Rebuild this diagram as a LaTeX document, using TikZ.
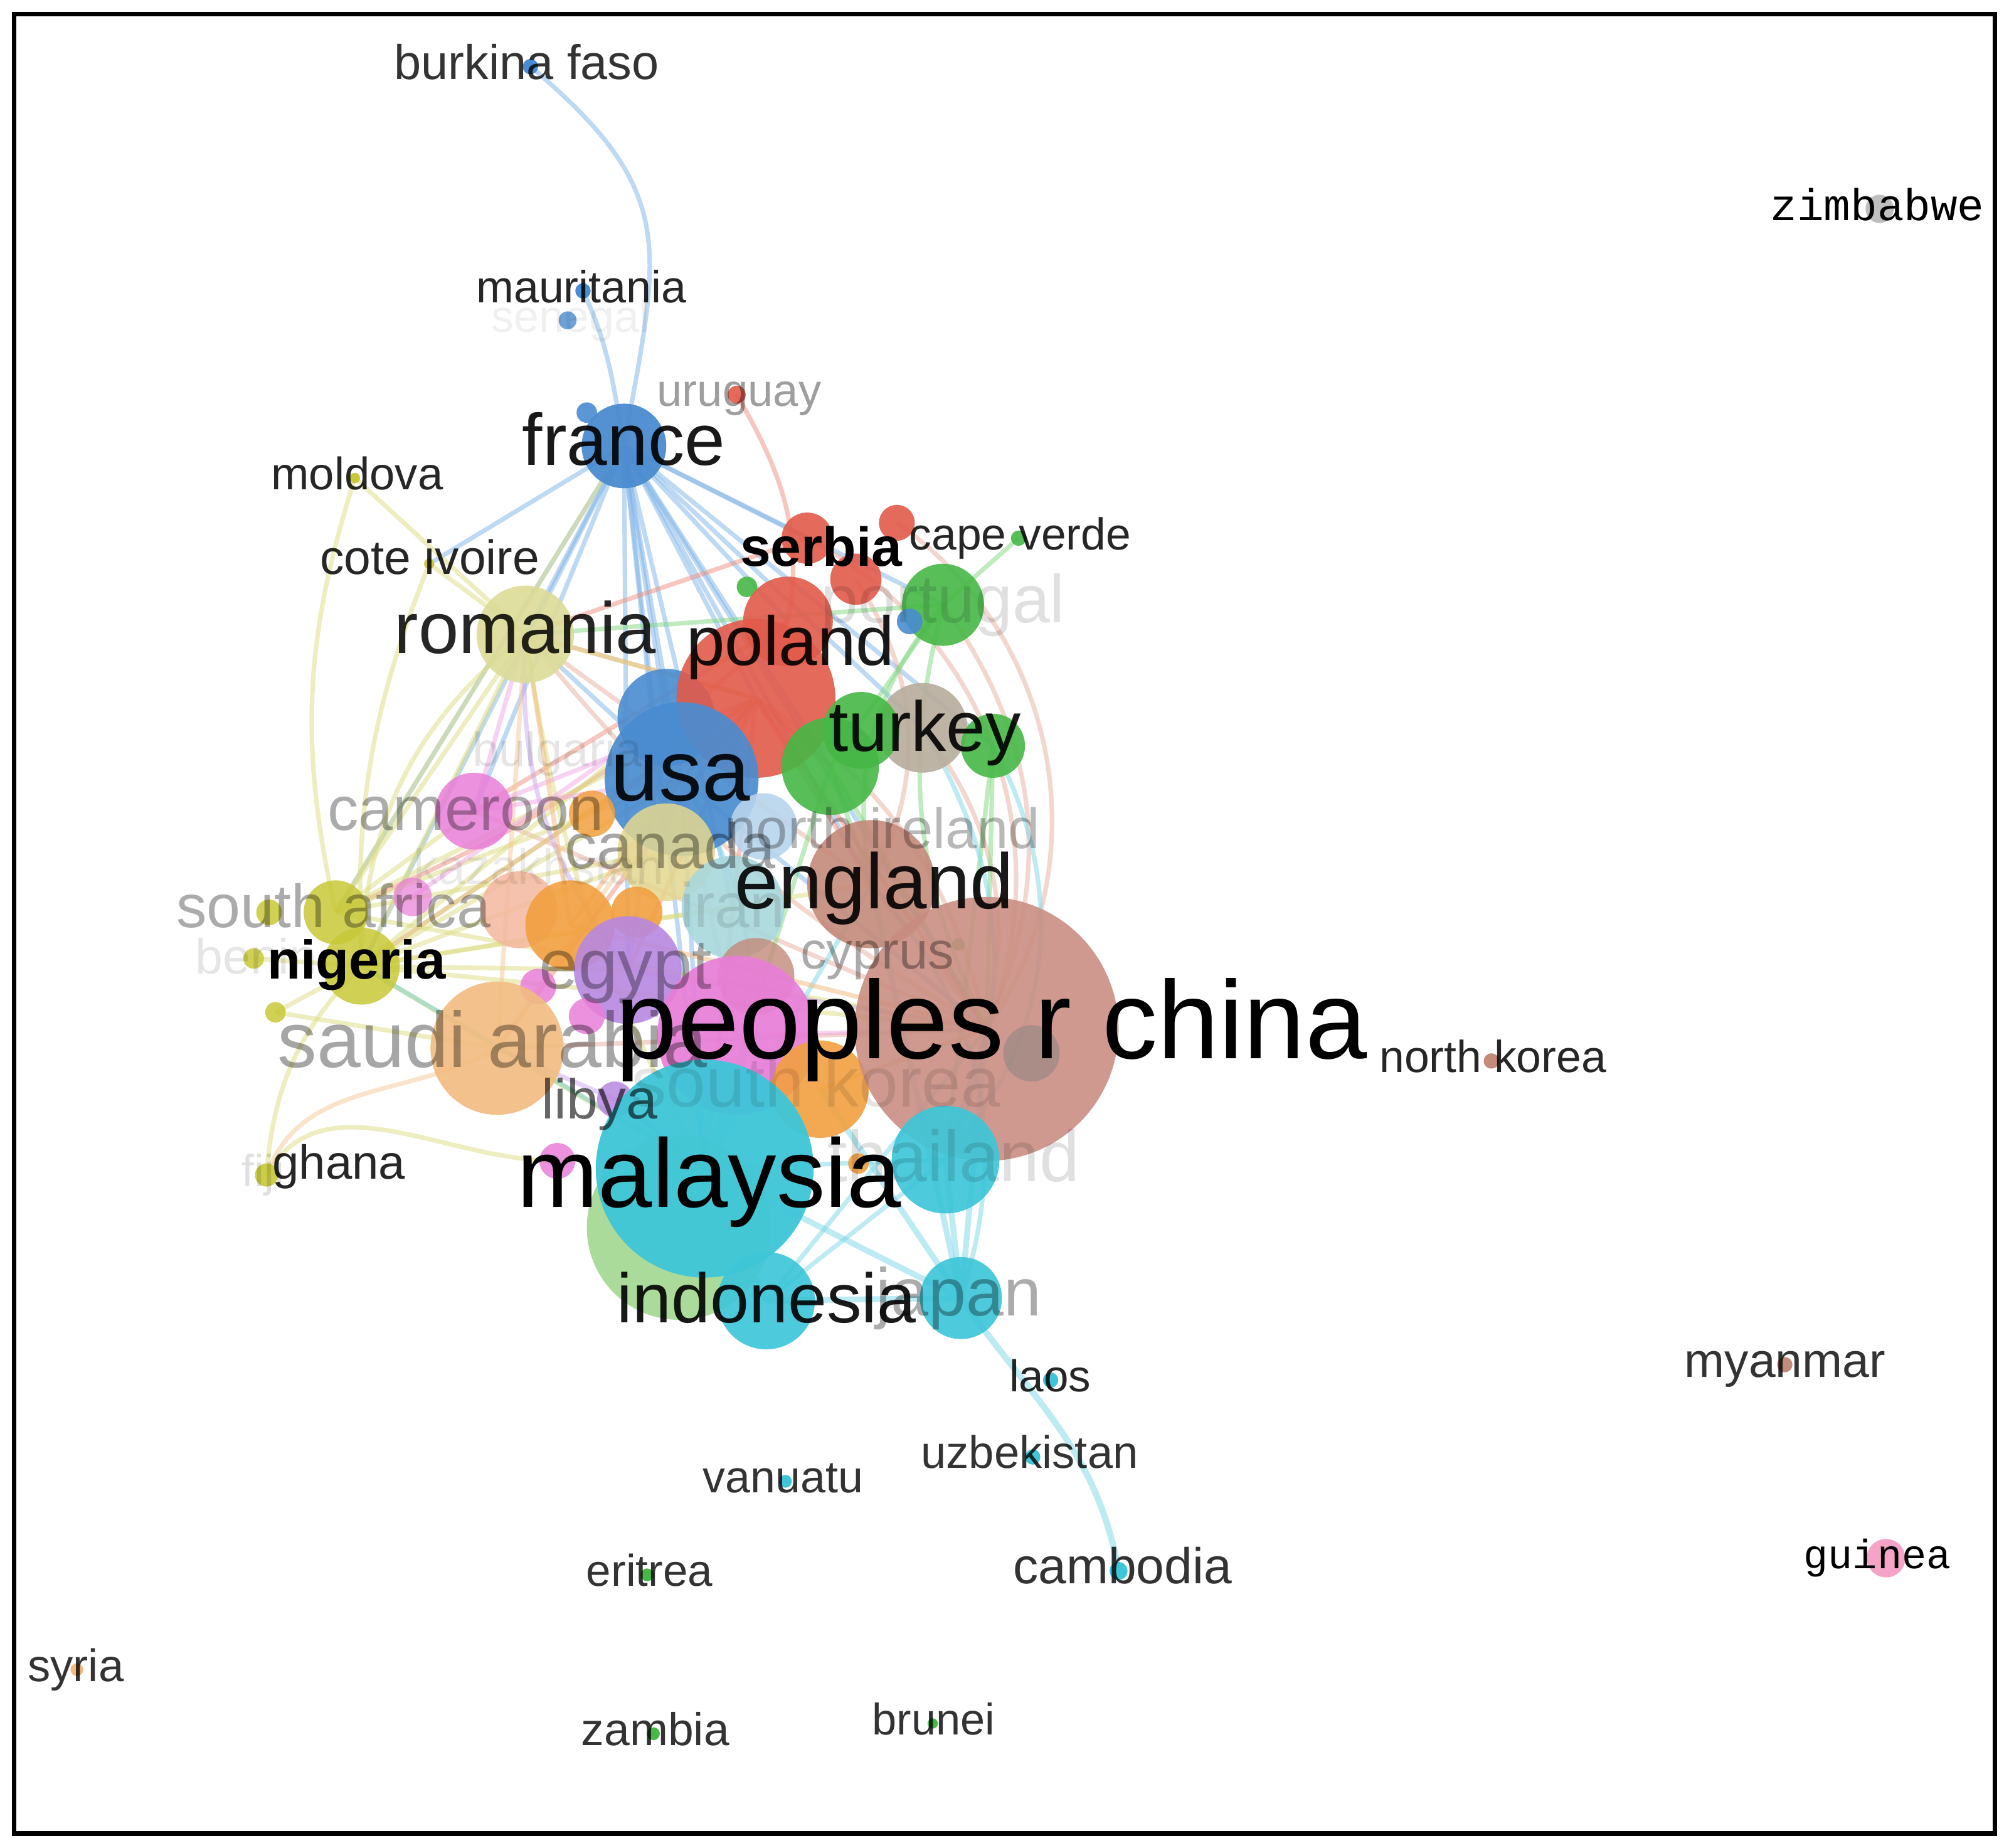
\documentclass[tikz,border=0pt]{standalone}
\usepackage{fontspec}
\setmainfont{Liberation Sans}
\newfontfamily\zimfont{Liberation Mono}
\pgfdeclarelayer{bg}\pgfdeclarelayer{fg}
\pgfsetlayers{bg,main,fg}
\definecolor{chinac}{HTML}{C98C80}
\definecolor{cyanc}{HTML}{3EC6D8}
\definecolor{mgreenc}{HTML}{A6DA96}
\definecolor{pinkc}{HTML}{E87ED8}
\definecolor{orangec}{HTML}{F2A040}
\definecolor{peachc}{HTML}{F2BC80}
\definecolor{purplec}{HTML}{B888E0}
\definecolor{tealc}{HTML}{A8D8DC}
\definecolor{brownc}{HTML}{C48A7A}
\definecolor{canadac}{HTML}{E4D890}
\definecolor{lbluec}{HTML}{B8D4EC}
\definecolor{bluec}{HTML}{4A8CD0}
\definecolor{redc}{HTML}{E25A4A}
\definecolor{greenc}{HTML}{46B846}
\definecolor{khakic}{HTML}{B8AC9C}
\definecolor{romc}{HTML}{DCDC98}
\definecolor{olivec}{HTML}{C8C838}
\definecolor{peach2c}{HTML}{F4B8A0}
\definecolor{guineac}{HTML}{F5A3C7}
\definecolor{eb}{HTML}{7FB4E8}
\definecolor{er}{HTML}{F09080}
\definecolor{eg}{HTML}{80D880}
\definecolor{ey}{HTML}{DCDC80}
\definecolor{ep}{HTML}{F6C898}
\definecolor{epu}{HTML}{C8A8EC}
\definecolor{ec}{HTML}{7AD8EA}
\definecolor{epk}{HTML}{F0A8E4}
\definecolor{eo}{HTML}{F4B878}
\definecolor{ech}{HTML}{E8B0A0}
\newcommand\vball[6]{\node[circle,inner sep=0pt,minimum size=#4*0.2mm,fill=#5,fill opacity=#6] (#1) at (#2,#3) {};}
\newcommand\vlab[6]{\node[anchor=base west,inner sep=0pt,#5,font=\fontsize{#4}{#4}\selectfont] (l#1) at (#2,#3) {#6};}
\tikzset{edge/.style={line width=1pt,draw opacity=0.5},
  dark/.style={text=black,text opacity=#1}}
\begin{document}
\begin{tikzpicture}[x=0.1mm,y=-0.1mm]
\useasboundingbox (0,0) rectangle (1568,1442);
\begin{pgfonlayer}{bg}
\fill[white] (0,0) rectangle (1568,1442);
\end{pgfonlayer}
\draw[line width=1.1pt] (11,11) rectangle (1557,1431);
% ---------- circles ----------
\vball{romania}{410}{495}{38}{romc}{0.9}
\vball{france}{487}{348}{33}{bluec}{0.95}
\vball{france2}{458}{322}{8}{bluec}{0.9}
\vball{serbia}{630}{420}{20}{redc}{0.9}
\vball{red3}{700}{408}{14}{redc}{0.9}
\vball{red4}{668}{452}{20}{redc}{0.9}
\vball{greensm}{583}{458}{8}{greenc}{0.9}
\vball{red2}{615}{485}{35}{redc}{0.9}
\vball{portugal}{736}{472}{32}{greenc}{0.9}
\vball{bluesm}{710}{485}{10}{bluec}{0.9}
\vball{capeverde}{795}{420}{6}{greenc}{0.9}
\vball{usa2}{520}{560}{38}{bluec}{0.9}
\vball{poland}{590}{545}{62}{redc}{0.9}
\vball{khaki}{720}{568}{35}{khakic}{0.9}
\vball{green3}{775}{582}{25}{greenc}{0.9}
\vball{green2}{672}{570}{30}{greenc}{0.9}
\vball{turkey}{648}{598}{38}{greenc}{0.9}
\vball{usa}{532}{608}{60}{bluec}{0.92}
\vball{lblue}{596}{645}{26}{lbluec}{0.9}
\vball{cameroon}{370}{633}{30}{pinkc}{0.85}
\vball{oransm}{462}{635}{18}{orangec}{0.85}
\vball{canada}{520}{665}{38}{canadac}{0.85}
\vball{peach2}{405}{710}{30}{peach2c}{0.85}
\vball{pink1}{322}{700}{15}{pinkc}{0.7}
\vball{safrica}{262}{712}{25}{olivec}{0.85}
\vball{safrica2}{210}{712}{10}{olivec}{0.85}
\vball{nigeria}{282}{754}{30}{olivec}{0.85}
\vball{ybenin}{198}{748}{8}{olivec}{0.85}
\vball{y3}{215}{790}{8}{olivec}{0.85}
\vball{orange1}{445}{722}{35}{orangec}{0.9}
\vball{orange2}{497}{712}{20}{orangec}{0.9}
\vball{england}{680}{690}{50}{brownc}{0.9}
\vball{iran}{572}{708}{40}{tealc}{0.9}
\vball{brownsm}{590}{762}{30}{brownc}{0.8}
\vball{cyprusd}{748}{737}{5}{greenc}{0.8}
\vball{egypt}{490}{757}{42}{purplec}{0.9}
\vball{pink2}{420}{770}{14}{pinkc}{0.85}
\vball{pink3}{458}{793}{14}{pinkc}{0.85}
\vball{saudi}{388}{818}{52}{peachc}{0.9}
\vball{libya}{480}{858}{14}{purplec}{0.85}
\vball{pink4}{435}{906}{14}{pinkc}{0.85}
\vball{pinkbig}{575}{808}{62}{pinkc}{0.92}
\vball{skorea}{640}{850}{38}{orangec}{0.9}
\vball{china}{770}{803}{103}{chinac}{0.88}
\vball{chinadot}{805}{822}{22}{gray}{0.45}
\vball{mgreen}{530}{958}{72}{mgreenc}{0.95}
\vball{malaysia}{550}{912}{85}{cyanc}{0.95}
\vball{orsm2}{670}{908}{8}{orangec}{0.9}
\vball{thailand}{738}{905}{42}{cyanc}{0.92}
\vball{japan}{750}{1013}{32}{cyanc}{0.92}
\vball{indonesia}{598}{1015}{38}{cyanc}{0.92}
\vball{uruguay}{575}{308}{7}{redc}{0.9}
\vball{burkina}{414}{52}{6}{bluec}{1}
\vball{mauritania}{455}{227}{6}{bluec}{1}
\vball{senegal}{443}{250}{7}{bluec}{0.8}
\vball{moldova}{277}{373}{4}{olivec}{1}
\vball{coteivoire}{335}{440}{4}{olivec}{1}
\vball{ghana}{208}{917}{9}{olivec}{0.9}
\vball{northkorea}{1164}{828}{6}{brownc}{1}
\vball{myanmar}{1393}{1065}{6}{brownc}{1}
\vball{zimbabwe}{1467}{163}{11}{lightgray}{1}
\vball{guinea}{1472}{1216}{15}{guineac}{1}
\vball{laos}{820}{1077}{6}{cyanc}{1}
\vball{uzbek}{806}{1137}{6}{cyanc}{1}
\vball{cambodia}{873}{1226}{7}{cyanc}{1}
\vball{vanuatu}{613}{1156}{5}{cyanc}{1}
\vball{eritrea}{505}{1229}{5}{greenc}{1}
\vball{zambia}{510}{1353}{5}{greenc}{1}
\vball{brunei}{728}{1345}{4}{greenc}{1}
\vball{syria}{60}{1303}{5}{peachc}{1}
% ---------- edges ----------
\begin{pgfonlayer}{bg}
% blue (france)
\draw[edge,eb] (burkina.center) to[out=-40,in=80,looseness=1.3] (france.center);
\draw[edge,eb] (mauritania.center) to[out=-65,in=100] (france.center);
\foreach \t in {romania,usa2,poland,serbia,red2,turkey,england,portugal,china,malaysia,egypt,canada,iran,cameroon,coteivoire,usa,khaki,green3,nigeria,safrica}
  \draw[edge,eb] (france.center) -- (\t.center);
\draw[edge,eb] (usa.center) -- (china.center);
\draw[edge,eb] (usa.center) -- (malaysia.center);
\draw[edge,eb] (usa.center) -- (romania.center);
% red
\draw[edge,er] (uruguay.center) to[out=-60,in=80] (red2.center);
\foreach \t in {romania,usa,china,malaysia,saudi,nigeria,england,turkey,egypt}
  \draw[edge,er] (poland.center) -- (\t.center);
\draw[edge,er] (serbia.center) -- (romania.center);
\draw[edge,er] (red2.center) -- (cameroon.center);
\draw[edge,er] (red2.center) to[bend left=10] (safrica.center);
% china arcs
\draw[edge,ech] (china.center) to[bend right=45] (red3.center);
\draw[edge,ech] (china.center) to[bend right=42] (serbia.center);
\draw[edge,ech] (china.center) to[bend right=30] (portugal.center);
\draw[edge,ech] (china.center) to[bend right=22] (poland.center);
\draw[edge,ech] (china.center) to[bend right=25] (khaki.center);
\draw[edge,ech] (china.center) to[bend left=10] (romania.center);
\draw[edge,ech] (china.center) -- (england.center);
\draw[edge,ech] (china.center) -- (saudi.center);
\draw[edge,ech] (china.center) -- (cameroon.center);
\draw[edge,ech] (england.center) to[bend right=30] (red4.center);
\draw[edge,ech] (england.center) -- (romania.center);
% green
\draw[edge,eg] (portugal.center) -- (turkey.center);
\draw[edge,eg] (portugal.center) to[bend right=20] (china.center);
\draw[edge,eg] (capeverde.center) -- (portugal.center);
\draw[edge,eg] (turkey.center) -- (china.center);
\draw[edge,eg] (green3.center) -- (china.center);
\draw[edge,eg] (green3.center) -- (thailand.center);
\draw[edge,eg] (turkey.center) -- (malaysia.center);
\draw[edge,eg] (turkey.center) -- (england.center);
\draw[edge,eg] (portugal.center) -- (romania.center);
\draw[edge,eg] (portugal.center) to[bend right=25] (england.center);
% yellow-green
\draw[edge,ey] (moldova.center) to[bend right=15] (safrica.center);
\draw[edge,ey] (moldova.center) -- (romania.center);
\draw[edge,ey] (coteivoire.center) to[bend right=12] (nigeria.center);
\draw[edge,ey] (coteivoire.center) -- (romania.center);
\foreach \t in {romania,usa,poland,china,malaysia,england,egypt,saudi,canada,iran,usa2}
  \draw[edge,ey] (nigeria.center) -- (\t.center);
\foreach \t in {romania,usa,poland,china,france,canada,cameroon}
  \draw[edge,ey] (safrica.center) -- (\t.center);
\draw[edge,ey] (ghana.center) to[out=60,in=180] (pink4.center);
\draw[edge,ey] (ghana.center) to[bend left=20] (nigeria.center);
\draw[edge,ey] (ybenin.center) -- (nigeria.center);
\draw[edge,ey] (y3.center) -- (nigeria.center);
\draw[edge,ey] (y3.center) -- (saudi.center);
\draw[edge,ey] (saudi.center) -- (malaysia.center);
\draw[edge,ey] (romania.center) to[bend right=25] (nigeria.center);
\draw[edge,ey] (romania.center) to[bend right=10] (malaysia.center);
\draw[edge,ey] (romania.center) -- (poland.center);
% peach
\draw[edge,ep] (ghana.center) to[out=70,in=210] (saudi.center);
\draw[edge,ep] (saudi.center) -- (romania.center);
\draw[edge,ep] (saudi.center) -- (usa.center);
% purple
\draw[edge,epu] (egypt.center) to[bend left=20] (romania.center);
\draw[edge,epu] (egypt.center) -- (china.center);
\draw[edge,epu] (egypt.center) -- (usa2.center);
\draw[edge,epu] (libya.center) -- (malaysia.center);
\draw[edge,epu] (libya.center) -- (saudi.center);
% cyan
\draw[edge,ec,line width=1.4pt] (japan.center) to[out=-55,in=100] (cambodia.center);
\foreach \t in {malaysia,thailand,indonesia,china,england,skorea}
  \draw[edge,ec,line width=1.3pt] (japan.center) -- (\t.center);
\draw[edge,ec] (japan.center) to[bend right=30] (england.center);
\draw[edge,ec] (thailand.center) to[bend right=35] (green3.center);
\draw[edge,ec] (thailand.center) to[bend right=28] (khaki.center);
\draw[edge,ec] (thailand.center) -- (china.center);
\draw[edge,ec] (thailand.center) -- (malaysia.center);
\draw[edge,ec,line width=1.3pt] (indonesia.center) -- (malaysia.center);
\draw[edge,ec] (indonesia.center) -- (china.center);
\draw[edge,ec] (indonesia.center) -- (thailand.center);
\draw[edge,ec] (malaysia.center) -- (england.center);
\draw[edge,ec] (malaysia.center) -- (libya.center);
\draw[edge,ec] (malaysia.center) -- (nigeria.center);
\draw[edge,ec] (malaysia.center) to[bend right=30] (usa.center);
% pink
\draw[edge,epk] (cameroon.center) -- (usa.center);
\draw[edge,epk] (cameroon.center) -- (poland.center);
\draw[edge,epk] (cameroon.center) -- (romania.center);
\draw[edge,epk] (pinkbig.center) -- (china.center);
\draw[edge,epk] (pinkbig.center) -- (usa.center);
\draw[edge,epk] (pink1.center) -- (usa2.center);
% orange
\draw[edge,eo] (orange1.center) -- (usa.center);
\draw[edge,eo] (orange1.center) -- (china.center);
\draw[edge,eo] (orange1.center) -- (romania.center);
\draw[edge,eo] (oransm.center) -- (poland.center);
\draw[edge,eo] (skorea.center) -- (china.center);
\end{pgfonlayer}
% ---------- labels ----------
\begin{pgfonlayer}{fg}
\vlab{china}{480}{826}{24.6}{dark=1}{peoples r china}
\vlab{malaysia}{403}{942}{21.6}{dark=1}{malaysia}
\vlab{england}{573}{709}{17.4}{dark=0.9}{england}
\vlab{usa}{476}{625}{19.2}{dark=0.9}{usa}
\vlab{france}{407}{363}{16.2}{dark=0.9}{france}
\vlab{poland}{535}{519}{15.4}{dark=0.9}{poland}
\vlab{romania}{307}{510}{16.1}{dark=0.85}{romania}
\vlab{turkey}{646}{586}{15.7}{dark=0.9}{turkey}
\vlab{indonesia}{481}{1032}{15.5}{dark=0.9}{indonesia}
\vlab{serbia}{577}{442}{12.2}{dark=1}{\bfseries serbia}
\vlab{nigeria}{208}{764}{12.1}{dark=1}{\bfseries nigeria}
\vlab{saudi}{216}{833}{17.5}{dark=0.35}{saudi arabia}
\vlab{safrica}{137}{724}{13.5}{dark=0.33}{south africa}
\vlab{cameroon}{255}{648}{13.8}{dark=0.33}{cameroon}
\vlab{canada}{440}{678}{14.3}{dark=0.35}{canada}
\vlab{egypt}{420}{772}{15.7}{dark=0.33}{egypt}
\vlab{nireland}{565}{662}{12.6}{dark=0.28}{north ireland}
\vlab{cyprus}{624}{756}{11.6}{dark=0.33}{cyprus}
\vlab{skorea}{492}{864}{15.7}{dark=0.1}{south korea}
\vlab{thailand}{645}{922}{16}{dark=0.12}{thailand}
\vlab{japan}{683}{1027}{15}{dark=0.33}{japan}
\vlab{portugal}{640}{486}{15}{dark=0.12}{portugal}
\vlab{bulgaria}{368}{598}{10.6}{dark=0.1}{bulgaria}
\vlab{kazakh}{322}{690}{11}{dark=0.08}{kazakhstan}
\vlab{iran}{530}{724}{14}{dark=0.1}{iran}
\vlab{libya}{422}{873}{12.5}{dark=0.6}{libya}
\vlab{ghana}{212}{920}{10.6}{dark=0.85}{ghana}
\vlab{fiji}{188}{926}{10}{dark=0.12}{fiji}
\vlab{benin}{152}{760}{11}{dark=0.1}{benin}
\vlab{moldova}{211}{382}{10.1}{dark=0.85}{moldova}
\vlab{coteivoire}{249}{448}{10.7}{dark=0.85}{cote ivoire}
\vlab{burkina}{307}{62}{10.8}{dark=0.8}{burkina faso}
\vlab{mauritania}{371}{236}{10}{dark=0.85}{mauritania}
\vlab{senegal}{383}{259}{10}{dark=0.06}{senegal}
\vlab{uruguay}{512}{317}{10.1}{dark=0.38}{uruguay}
\vlab{capeverde}{709}{429}{9.95}{dark=0.85}{cape verde}
\vlab{northkorea}{1076}{837}{9.96}{dark=0.85}{north korea}
\vlab{zimbabwe}{1381}{172}{9.9}{dark=1}{\zimfont zimbabwe}
\vlab{guinea}{1407}{1224}{9.1}{dark=1}{\zimfont guinea}
\vlab{myanmar}{1314}{1075}{10.7}{dark=0.8}{myanmar}
\vlab{laos}{787}{1086}{9.9}{dark=0.85}{laos}
\vlab{uzbek}{718}{1146}{10.1}{dark=0.8}{uzbekistan}
\vlab{vanuatu}{548}{1165}{10}{dark=0.8}{vanuatu}
\vlab{cambodia}{790}{1236}{11.2}{dark=0.8}{cambodia}
\vlab{eritrea}{457}{1238}{9.9}{dark=0.8}{eritrea}
\vlab{syria}{21}{1312}{10.1}{dark=0.8}{syria}
\vlab{zambia}{453}{1362}{10.2}{dark=0.8}{zambia}
\vlab{brunei}{680}{1354}{9.8}{dark=0.8}{brunei}
\end{pgfonlayer}
\end{tikzpicture}
\end{document}
